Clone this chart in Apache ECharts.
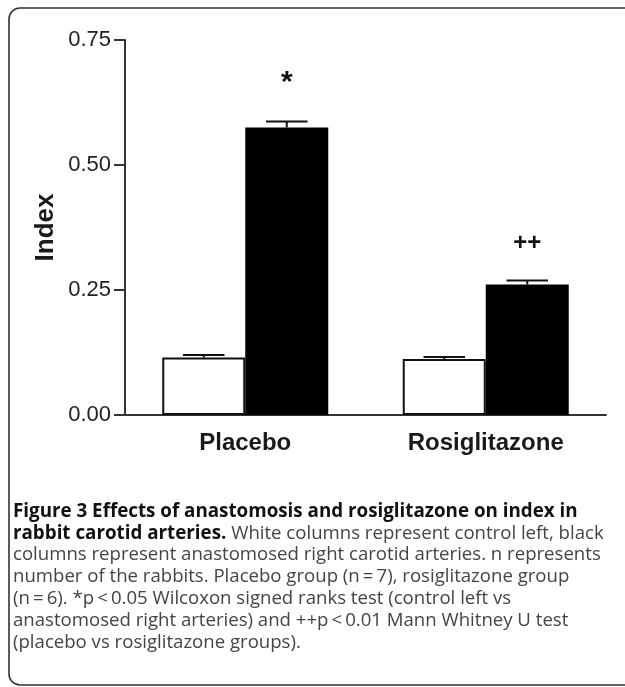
<!DOCTYPE html>
<html>
<head>
<meta charset="utf-8">
<style>
  html, body { margin: 0; padding: 0; background: #fff; }
  #chart { width: 625px; height: 687px; }
</style>
<script src="https://cdn.jsdelivr.net/npm/echarts@6.0.0/dist/echarts.min.js"></script>
</head>
<body>
<div id="chart"></div>
<script>
// data
const groups = ['Placebo', 'Rosiglitazone'];
const controlLeft = [0.115, 0.112];
const controlLeftErr = [0.005, 0.004];
const anastomosedRight = [0.575, 0.261];
const anastomosedRightErr = [0.012, 0.008];
const sigMarks = ['*', '++'];
const sigLevel = [0.665, 0.344];
const yTicks = [0, 0.25, 0.5, 0.75];

const captionLines = [
    [['b', 'Figure 3 Effects of anastomosis and rosiglitazone on index in']],
    [['b', 'rabbit carotid arteries.'], ['r', ' White columns represent control left, black']],
    [['r', 'columns represent anastomosed right carotid arteries. n represents']],
    [['r', 'number of the rabbits. Placebo group (n\u2009=\u20097), rosiglitazone group']],
    [['r', '(n\u2009=\u20096). *p\u2009<\u20090.05 Wilcoxon signed ranks test (control left vs']],
    [['r', 'anastomosed right arteries) and ++p\u2009<\u20090.01 Mann Whitney U test']],
    [['r', '(placebo vs rosiglitazone groups).']]
];

const BAR_W = 83;
const SANS = '"Liberation Sans", Arial, sans-serif';

const chart = echarts.init(document.getElementById('chart'));

function errorBars(values, errs, offset) {
    return {
        type: 'custom',
        data: values.map((v, i) => [i, v, errs[i]]),
        z: 5,
        renderItem: (params, api) => {
            const base = api.coord([api.value(0), api.value(1)]);
            const top = api.coord([api.value(0), api.value(1) + api.value(2)]);
            const cx = base[0] + offset;
            const st = { stroke: '#111', lineWidth: 2 };
            return {
                type: 'group',
                children: [
                    { type: 'line', shape: { x1: cx, y1: base[1], x2: cx, y2: top[1] }, style: st },
                    { type: 'line', shape: { x1: cx - BAR_W / 4, y1: top[1], x2: cx + BAR_W / 4, y2: top[1] }, style: st }
                ]
            };
        }
    };
}

const captionGraphics = captionLines.map((parts, i) => ({
    type: 'text',
    left: 13,
    top: 502 + i * 21.8,
    style: {
        text: parts.map(p => '{' + p[0] + '|' + p[1] + '}').join(''),
        rich: {
            b: { fontFamily: '"Open Sans", sans-serif', fontWeight: 'bold', fontSize: 18.8, fill: '#111' },
            r: { fontFamily: '"Open Sans", sans-serif', fontWeight: 'normal', fontSize: 18.6, fill: '#444' }
        }
    }
}));

const option = {
    animation: false,
    backgroundColor: '#fff',
    grid: { left: 125, right: 19, top: 40, bottom: 272 },
    xAxis: {
        type: 'category',
        data: groups,
        axisLine: { lineStyle: { color: '#333', width: 2 } },
        axisTick: { show: false },
        axisLabel: {
            fontFamily: SANS, fontWeight: 'bold', fontSize: 24,
            color: '#1a1a1a', margin: 16
        }
    },
    yAxis: {
        type: 'value',
        min: yTicks[0],
        max: yTicks[yTicks.length - 1],
        interval: 0.25,
        name: 'Index',
        nameLocation: 'middle',
        nameRotate: 90,
        nameGap: 66,
        nameMoveOverlap: false,
        nameTextStyle: { fontFamily: SANS, fontWeight: 'bold', fontSize: 26, color: '#1a1a1a' },
        axisLine: { show: true, lineStyle: { color: '#333', width: 2 } },
        axisTick: { show: true, length: 11, lineStyle: { color: '#333', width: 2 } },
        axisLabel: {
            formatter: v => v.toFixed(2),
            fontFamily: SANS, fontSize: 22, color: '#222', margin: 14
        },
        splitLine: { show: false }
    },
    series: [
        {
            name: 'Control left',
            type: 'bar',
            data: controlLeft,
            barWidth: BAR_W,
            barGap: '0%',
            itemStyle: { color: '#fff', borderColor: '#111', borderWidth: 2 }
        },
        {
            name: 'Anastomosed right',
            type: 'bar',
            data: anastomosedRight,
            barWidth: BAR_W,
            barGap: '0%',
            itemStyle: { color: '#000', borderColor: '#000', borderWidth: 0 }
        },
        errorBars(controlLeft, controlLeftErr, -BAR_W / 2),
        errorBars(anastomosedRight, anastomosedRightErr, BAR_W / 2),
        {
            type: 'custom',
            data: sigLevel.map((v, i) => [i, v]),
            renderItem: (params, api) => {
                const p = api.coord([api.value(0), api.value(1)]);
                const mark = sigMarks[params.dataIndex];
                return {
                    type: 'text',
                    x: p[0] + BAR_W / 2,
                    y: p[1],
                    style: {
                        text: mark,
                        fontFamily: SANS,
                        fontWeight: 'bold', fontSize: mark === '*' ? 30 : 24, fill: '#111',
                        align: 'center', verticalAlign: 'middle'
                    }
                };
            }
        }
    ],
    graphic: [
        {
            type: 'rect',
            shape: { x: 9, y: 8, width: 700, height: 677, r: 11 },
            style: { fill: 'none', stroke: '#333', lineWidth: 1.6 },
            silent: true
        }
    ].concat(captionGraphics)
};

chart.setOption(option);
</script>
</body>
</html>
